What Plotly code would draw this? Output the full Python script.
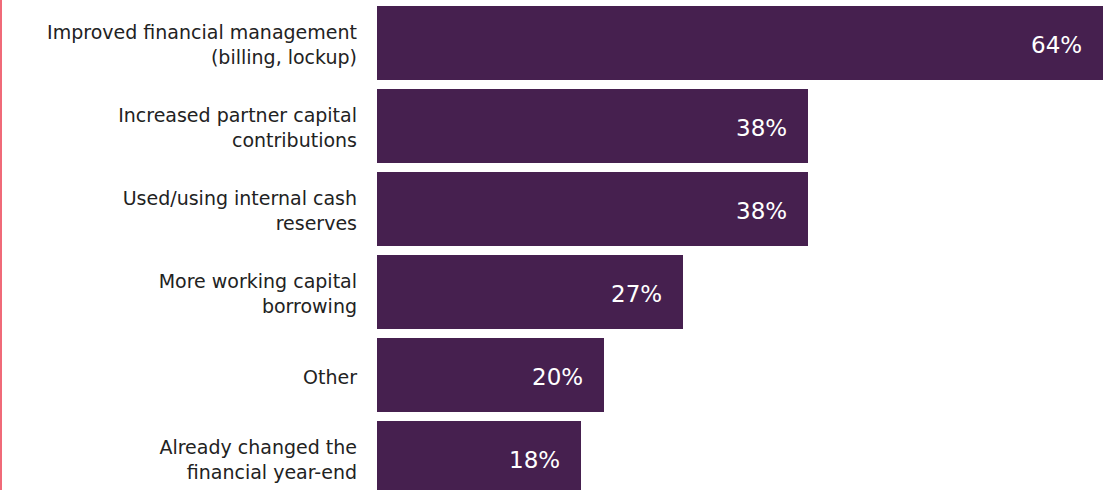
import plotly.graph_objects as go

categories = [
    "Improved financial management<br>(billing, lockup)",
    "Increased partner capital<br>contributions",
    "Used/using internal cash<br>reserves",
    "More working capital<br>borrowing",
    "Other",
    "Already changed the<br>financial year-end",
]
values = [64, 38, 38, 27, 20, 18]
value_labels = ["64%", "38%", "38%", "27%", "20%", "18%"]

BAR = "#46204f"
FONT = "DejaVu Sans"

fig = go.Figure()
fig.add_trace(go.Bar(
    x=values, y=categories, orientation="h",
    marker=dict(color=BAR, line=dict(width=0)),
    width=0.892, hoverinfo="skip",
))

for v, c, t in zip(values, categories, value_labels):
    fig.add_annotation(x=v, y=c, text=t, showarrow=False, xanchor="right",
                       xshift=-19, yshift=-2,
                       font=dict(family=FONT, size=23, color="white"))

fig.add_shape(type="line", xref="paper", yref="paper",
              x0=-376 / 726, x1=-376 / 726, y0=0, y1=1,
              line=dict(color="#f06a78", width=2))

fig.update_layout(
    width=1106, height=490,
    margin=dict(l=377, r=3, t=0, b=0),
    plot_bgcolor="white", paper_bgcolor="white",
    showlegend=False,
    bargap=0,
    xaxis=dict(range=[0, 64], visible=False, fixedrange=True),
    yaxis=dict(range=[5.386, -0.518], showgrid=False, zeroline=False, showline=False,
               ticks="", ticklabelstandoff=19, ticklabelshift=-2,
               tickfont=dict(family=FONT, size=19, color="#222222")),
)
fig.write_html("out.html", config={"displayModeBar": False},
               post_script="document.body.style.margin='0px';")
